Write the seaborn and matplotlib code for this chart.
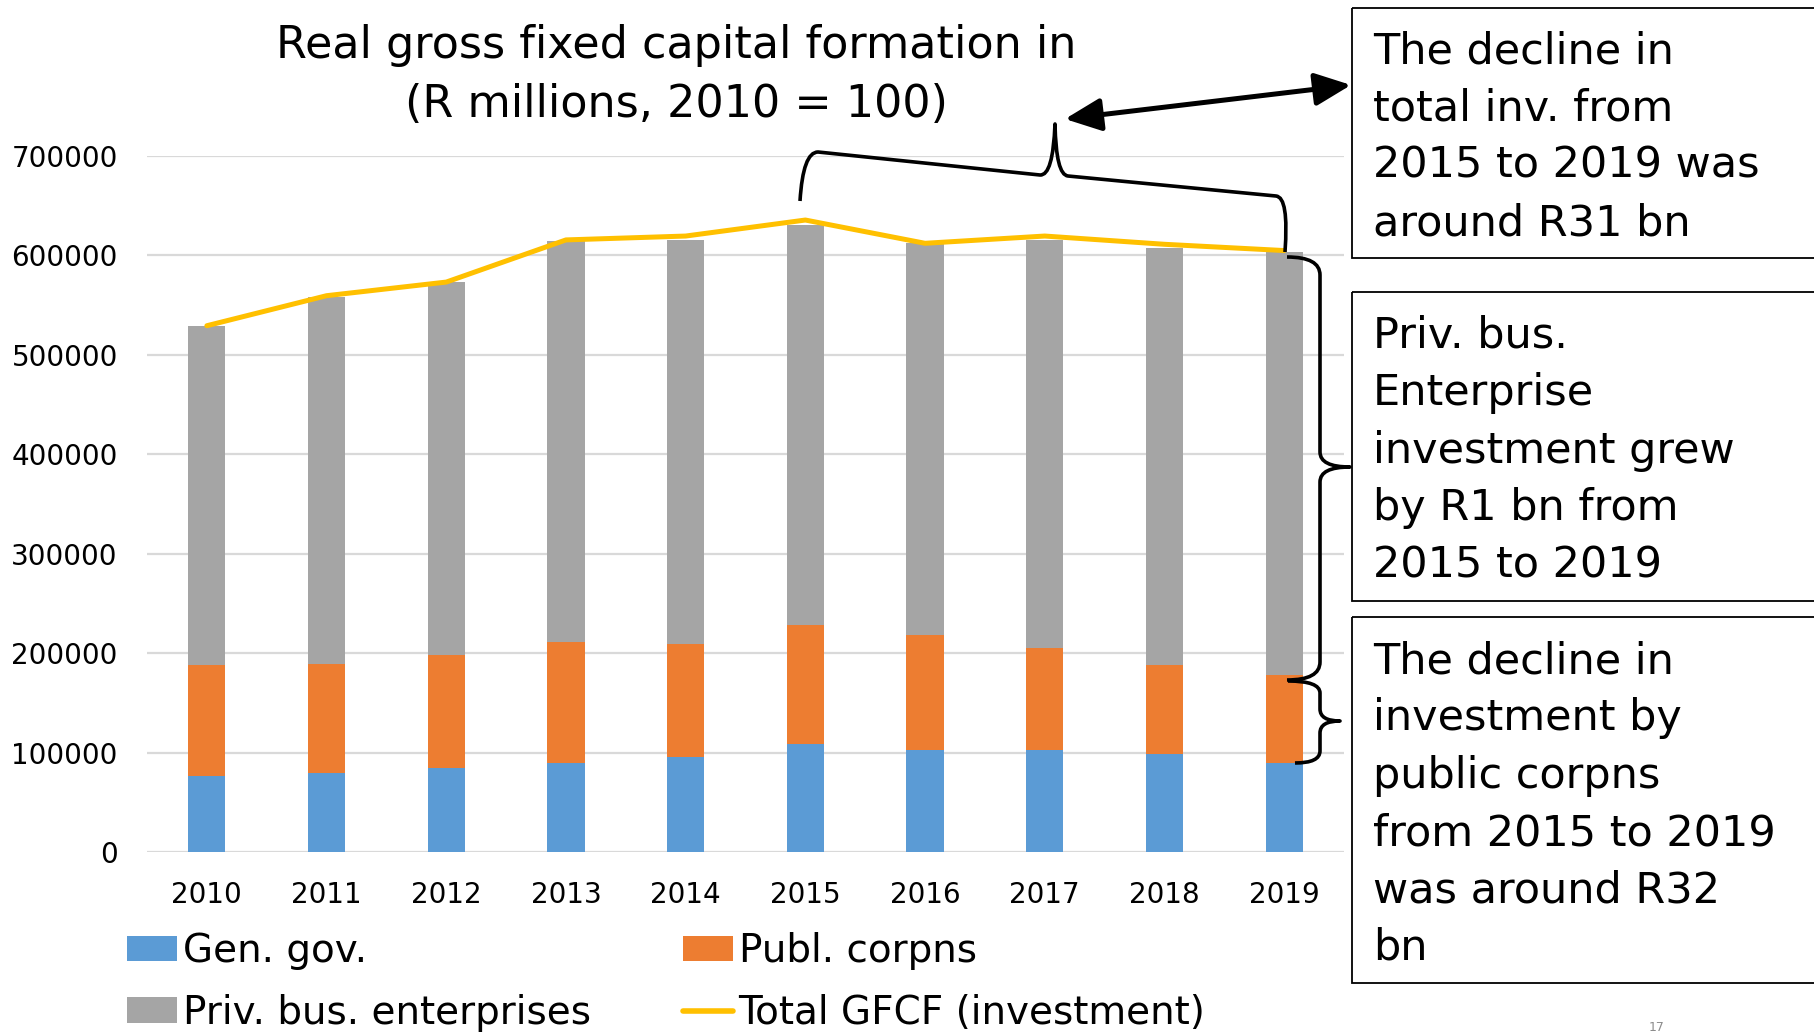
import numpy as np
import pandas as pd
import seaborn as sns
import matplotlib.pyplot as plt
from matplotlib.patches import Rectangle, PathPatch, FancyArrowPatch, Patch
from matplotlib.lines import Line2D
from matplotlib.path import Path
from matplotlib.transforms import Affine2D

# Data (R millions)
years = ['2010', '2011', '2012', '2013', '2014', '2015', '2016', '2017', '2018', '2019']
gen_gov = [76100, 79000, 84900, 89800, 95100, 108800, 102400, 102900, 99000, 89300]
publ_corp = [111700, 109800, 113600, 121900, 114200, 120000, 116100, 102000, 88800, 88300]
priv_bus = [341500, 369200, 374700, 402400, 406700, 401400, 393700, 410700, 419500, 426300]
total_gfcf = [529300, 559500, 573200, 615600, 619500, 635600, 612200, 619500, 611200, 604900]

legend_labels = ['Gen. gov.', 'Publ. corpns', 'Priv. bus. enterprises', 'Total GFCF (investment)']
title_lines = ['Real gross fixed capital formation in', '(R millions, 2010 = 100)']
box_texts = [
    ['The decline in', 'total inv. from', '2015 to 2019 was', 'around R31 bn'],
    ['Priv. bus.', 'Enterprise', 'investment grew', 'by R1 bn from', '2015 to 2019'],
    ['The decline in', 'investment by', 'public corpns', 'from 2015 to 2019', 'was around R32', 'bn'],
]

BLUE, ORANGE, GRAY, YELLOW = '#5B9BD5', '#ED7D31', '#A5A5A5', '#FFC000'

df = pd.DataFrame({'year': years, 'gen': gen_gov, 'publ': publ_corp, 'priv': priv_bus})
df['cum2'] = df['gen'] + df['publ']
df['cum3'] = df['cum2'] + df['priv']

sns.set_style('white')
plt.rcParams['font.family'] = ['DejaVu Sans']
plt.rcParams['text.color'] = 'black'

W, H = 1814, 1035
fig = plt.figure(figsize=(W / 100, H / 100), dpi=100)
ax = fig.add_axes([147 / W, 1 - 852 / H, 1197 / W, 696 / H])

# pixel (y down) -> figure transform
px = Affine2D().scale(1 / W, -1 / H).translate(0, 1) + fig.transFigure

# stacked bars: draw cumulative heights back to front
bar_w = 0.31
sns.barplot(data=df, x='year', y='cum3', color=GRAY, width=bar_w, saturation=1, linewidth=0, ax=ax)
sns.barplot(data=df, x='year', y='cum2', color=ORANGE, width=bar_w, saturation=1, linewidth=0, ax=ax)
sns.barplot(data=df, x='year', y='gen', color=BLUE, width=bar_w, saturation=1, linewidth=0, ax=ax)
sns.lineplot(x=np.arange(len(years)), y=total_gfcf, color=YELLOW, lw=3.6, ax=ax)

ax.set_xlim(-0.5, len(years) - 0.5)
ax.set_ylim(0, 700000)
ax.set_yticks(range(0, 700001, 100000))
ax.set_yticklabels([str(v) for v in range(0, 700001, 100000)])
ax.set_xlabel('')
ax.set_ylabel('')
ax.yaxis.grid(True, color='#D9D9D9', lw=1.6)
ax.set_axisbelow(True)
for s in ax.spines.values():
    s.set_visible(False)
ax.tick_params(axis='both', length=0, labelsize=20, colors='black', pad=21)

# title
fig.text(676 / W, 1 - 58 / H, title_lines[0], ha='center', va='baseline', fontsize=32)
fig.text(676 / W, 1 - 117 / H, title_lines[1], ha='center', va='baseline', fontsize=32)

# legend in two columns
h_gen = Patch(facecolor=BLUE, edgecolor='none')
h_publ = Patch(facecolor=ORANGE, edgecolor='none')
h_priv = Patch(facecolor=GRAY, edgecolor='none')
h_tot = Line2D([0], [0], color=YELLOW, lw=4)
leg_kw = dict(loc='center left', frameon=False, fontsize=28, handlelength=1.28, handleheight=0.62,
              handletextpad=0.15, labelspacing=0.6, borderpad=0, borderaxespad=0, labelcolor='black')
fig.legend([h_gen, h_priv], [legend_labels[0], legend_labels[2]],
           bbox_to_anchor=(127 / W, 1 - 982 / H), **leg_kw)
fig.legend([h_publ, h_tot], [legend_labels[1], legend_labels[3]],
           bbox_to_anchor=(683 / W, 1 - 982 / H), **leg_kw)

# text boxes on the right
boxes = [(8, 258, 63), (292, 601, 348), (617, 983, 673)]
for (top, bottom, first_base), lines in zip(boxes, box_texts):
    fig.patches.append(Rectangle((1352, top), 600, bottom - top, transform=px,
                                 fill=False, edgecolor='black', lw=1.3))
    for i, line in enumerate(lines):
        fig.text(1373 / W, 1 - (first_base + i * 57.4) / H, line,
                 ha='left', va='baseline', fontsize=31)

# braces
M, L, C = Path.MOVETO, Path.LINETO, Path.CURVE3
top_brace = Path(
    [(800, 201), (803, 152), (818, 152), (1040, 175), (1053, 176), (1055, 124),
     (1056, 175), (1068, 176), (1276, 196), (1289, 197), (1285, 252)],
    [M, C, C, L, C, C, C, C, L, C, C])
big_brace = Path(
    [(1287, 257), (1320, 257), (1320, 275), (1320, 452), (1320, 467), (1350, 467),
     (1320, 467), (1320, 482), (1320, 662), (1320, 680), (1287, 680)],
    [M, C, C, L, C, C, C, C, L, C, C])
small_brace = Path(
    [(1288, 681), (1320, 681), (1320, 693), (1320, 709), (1320, 721), (1340, 721),
     (1320, 721), (1320, 733), (1320, 751), (1320, 763), (1295, 763)],
    [M, C, C, L, C, C, C, C, L, C, C])
for p in (top_brace, big_brace, small_brace):
    fig.patches.append(PathPatch(p, transform=px, fill=False, edgecolor='black', lw=2.6,
                                 capstyle='butt', joinstyle='round'))

# double arrow to the first box
fig.patches.append(FancyArrowPatch(posA=(1065, 119), posB=(1351, 85), transform=px,
                                   arrowstyle='<|-|>,head_length=1.1,head_width=0.5',
                                   mutation_scale=20, lw=3.6, color='black',
                                   shrinkA=0, shrinkB=0))

# slide number at the bottom edge
fig.text(1657 / W, 1 - 1034 / H, '17', ha='center', va='bottom', fontsize=9, color='#8C8C8C')

fig.savefig('out.png', dpi=100)
